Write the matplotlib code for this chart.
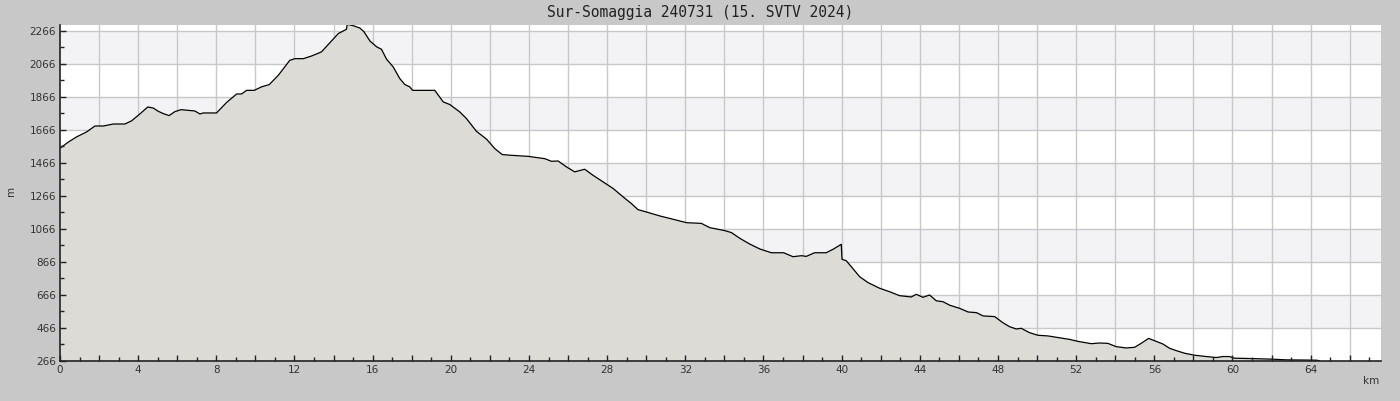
import matplotlib
matplotlib.use("Agg")
import matplotlib.pyplot as plt
from matplotlib.ticker import MultipleLocator, FixedLocator, FuncFormatter
import numpy as np

title = "Sur-Somaggia 240731 (15. SVTV 2024)"
x_label = "km"
y_label = "m"

dist_km = [0.0, 0.43, 0.85, 1.36, 1.79, 2.22, 2.73, 3.32, 3.66, 4.01, 4.49, 4.77, 5.03, 5.29,
           5.58, 5.88, 6.19, 6.56, 6.9, 7.16, 7.33, 8.01, 8.52, 9.04, 9.29, 9.55, 9.94, 10.31,
           10.71, 11.17, 11.76, 12.02, 12.45, 12.87, 13.38, 13.72, 14.24, 14.66, 14.70, 15.0,
           15.34, 15.55, 15.86, 16.2, 16.45, 16.71, 17.05, 17.39, 17.65, 17.9, 18.04, 19.18,
           19.61, 19.95, 20.46, 20.8, 21.31, 21.83, 22.25, 22.63, 23.02, 23.96, 24.81, 25.15,
           25.49, 25.92, 26.34, 26.85, 27.28, 27.79, 28.31, 28.82, 29.24, 29.58, 30.01, 30.69,
           31.37, 32.06, 32.82, 33.25, 34.02, 34.36, 34.78, 35.29, 35.81, 36.4, 37.03, 37.51,
           37.94, 38.19, 38.62, 39.21, 39.56, 39.98, 40.02, 40.23, 40.49, 40.92, 41.35, 41.94,
           42.45, 42.96, 43.56, 43.82, 44.16, 44.5, 44.84, 45.19, 45.53, 46.04, 46.47, 46.9,
           47.24, 47.83, 48.25, 48.59, 48.93, 49.19, 49.61, 50.04, 50.55, 51.15, 51.66, 52.09,
           52.77, 53.2, 53.62, 54.05, 54.56, 54.99, 55.33, 55.71, 56.01, 56.44, 56.78, 57.12,
           57.55, 58.06, 58.66, 59.17, 59.51, 59.85, 60.1, 60.87, 62.06, 62.74, 64.28, 64.45]

elev_m = [1555, 1593, 1624, 1654, 1690, 1690, 1702, 1702, 1721, 1755, 1805, 1799, 1779, 1765,
          1753, 1777, 1789, 1785, 1781, 1763, 1769, 1769, 1832, 1884, 1884, 1906, 1906, 1927,
          1941, 1997, 2088, 2098, 2098, 2114, 2139, 2183, 2250, 2276, 2306, 2298,
          2284, 2262, 2205, 2170, 2155, 2095, 2048, 1977, 1941, 1927, 1906, 1906,
          1836, 1820, 1775, 1735, 1658, 1610, 1553, 1517, 1513, 1506, 1492, 1476,
          1478, 1442, 1412, 1428, 1391, 1351, 1311, 1260, 1220, 1183, 1169, 1145,
          1125, 1104, 1100, 1074, 1056, 1044, 1010, 975, 945, 922, 922, 898,
          904, 900, 922, 922, 943, 973, 882, 874, 838, 777, 741, 707,
          686, 662, 654, 670, 652, 666, 631, 625, 604, 585, 563, 559,
          539, 535, 498, 474, 460, 464, 438, 422, 418, 407, 397, 385,
          371, 375, 373, 353, 345, 349, 373, 403, 389, 369, 343, 329,
          313, 301, 293, 287, 293, 293, 283, 281, 277, 273, 271, 268]

y_ticks = [266, 466, 666, 866, 1066, 1266, 1466, 1666, 1866, 2066, 2266]
x_tick_labels = list(range(0, 65, 4))

x_max = 67.6
y_min, y_max = 266, 2302

fig = plt.figure(figsize=(14, 4.01), dpi=100, facecolor="#c8c8c8")
ax = fig.add_axes([60/1400, 1 - 361/401, (1381-60)/1400, (361-25)/401])
ax.set_facecolor("white")

# alternating bands
for i in range(len(y_ticks) - 1):
    if i % 2 == 1:
        ax.axhspan(y_ticks[i], y_ticks[i+1], color="#f3f2f5", zorder=0, lw=0)

ax.set_xlim(0, x_max)
ax.set_ylim(y_min, y_max)

x_grid = np.arange(2, x_max, 2)
for xv in x_grid:
    ax.axvline(xv, color="#c8c8c8", lw=1.0, zorder=1)
for yv in y_ticks[1:]:
    ax.axhline(yv, color="#c8c8c8", lw=1.0, zorder=1)

ax.xaxis.set_major_locator(MultipleLocator(2))
ax.xaxis.set_minor_locator(MultipleLocator(1))
ax.xaxis.set_major_formatter(FuncFormatter(lambda v, p: f"{int(round(v))}" if int(round(v)) in x_tick_labels else ""))
ax.yaxis.set_major_locator(FixedLocator(y_ticks))
ax.yaxis.set_minor_locator(FixedLocator([t + 100 for t in y_ticks]))
ax.grid(False)
ax.set_axisbelow(False)

ax.fill_between(dist_km, elev_m, y_min, color="#dcdbd6", lw=0, zorder=2)
ax.plot(dist_km, elev_m, color="black", lw=0.9, zorder=2.2)

for s in ["top", "right"]:
    ax.spines[s].set_visible(False)
for s in ["left", "bottom"]:
    ax.spines[s].set_color("#222222")
    ax.spines[s].set_linewidth(1.2)
    ax.spines[s].set_zorder(5)

ax.tick_params(which="major", direction="in", length=4.5, width=1, color="#222222",
               labelsize=7.5, labelcolor="#333333", pad=3)
ax.tick_params(which="minor", direction="in", length=3, width=1, color="#222222")

fig.text(700/1400, 1 - 13/401, title, ha="center", va="center",
         family="DejaVu Sans Mono", fontsize=10.5, color="#222222")
fig.text(1371/1400, 1 - 381/401, x_label, ha="center", va="center", fontsize=7.5, color="#333333")
fig.text(11/1400, 1 - 191/401, y_label, ha="center", va="center", rotation=90, fontsize=7.5, color="#333333")

fig.savefig("out.png", dpi=100, facecolor=fig.get_facecolor())
